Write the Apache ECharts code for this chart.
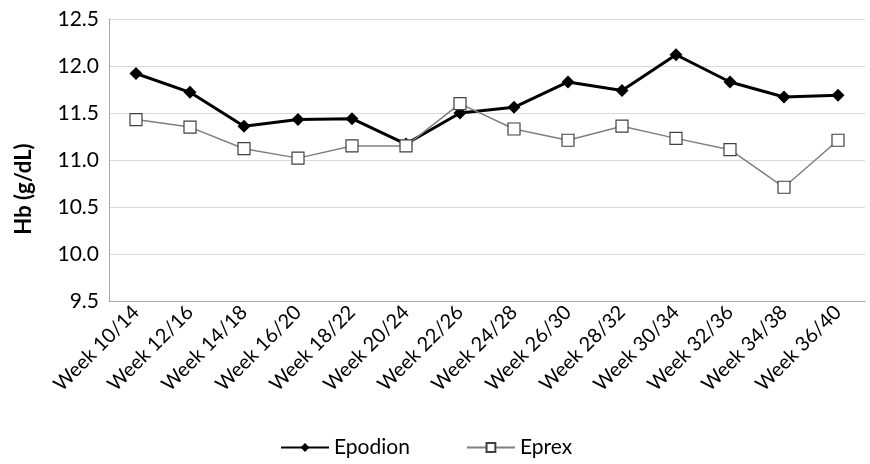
<!DOCTYPE html>
<html><head><meta charset="utf-8">
<script src="https://cdn.jsdelivr.net/npm/echarts@6/dist/echarts.min.js"></script>
<style>html,body{margin:0;padding:0;background:#fff}#c{width:870px;height:464px}</style>
</head><body><div id="c"></div>
<script>
const categories = ["Week 10/14","Week 12/16","Week 14/18","Week 16/20","Week 18/22","Week 20/24","Week 22/26","Week 24/28","Week 26/30","Week 28/32","Week 30/34","Week 32/36","Week 34/38","Week 36/40"];
const epodion = [11.92,11.72,11.36,11.43,11.44,11.17,11.50,11.56,11.83,11.74,12.12,11.83,11.67,11.69];
const eprex = [11.43,11.35,11.12,11.02,11.15,11.15,11.60,11.33,11.21,11.36,11.23,11.11,10.71,11.21];
const yTicks = {min: 9.5, max: 12.5, interval: 0.5};
const yTitle = 'Hb (g/dL)';
const font = "Lato, 'Open Sans', sans-serif";
const chart = echarts.init(document.getElementById('c'));
chart.setOption({
  animation: false,
  grid: {left: 109, right: 5, top: 19, bottom: 163},
  graphic: [{
    type: 'text', x: 24, y: 189, rotation: Math.PI / 2,
    style: {text: yTitle, fontFamily: font, fontSize: 22, fontWeight: 'bold', fill: '#000',
            align: 'center', verticalAlign: 'middle'}
  }],
  legend: {
    bottom: 1, left: 275, itemGap: 56, itemWidth: 48, itemHeight: 11,
    textStyle: {fontFamily: font, fontSize: 21, color: '#000'},
    data: ['Epodion','Eprex']
  },
  xAxis: {
    type: 'category', data: categories, boundaryGap: true,
    axisLine: {lineStyle: {color: '#a6a6a6'}},
    axisTick: {alignWithLabel: true, length: 5, lineStyle: {color: '#a6a6a6'}},
    axisLabel: {rotate: 45, interval: 0, fontFamily: font, fontSize: 20, color: '#000', margin: 8}
  },
  yAxis: {
    type: 'value', min: yTicks.min, max: yTicks.max, interval: yTicks.interval,
    axisLine: {show: true, lineStyle: {color: '#a6a6a6'}},
    axisTick: {show: false},
    splitLine: {lineStyle: {color: '#d9d9d9', width: 1}},
    axisLabel: {fontFamily: font, fontSize: 21, color: '#000', margin: 10, formatter: v => v.toFixed(1)}
  },
  series: [
    {name: 'Epodion', type: 'line', data: epodion, z: 3,
     lineStyle: {color: '#000', width: 3}, itemStyle: {color: '#000'},
     symbol: 'diamond', symbolSize: 13, showAllSymbol: true},
    {name: 'Eprex', type: 'line', data: eprex, z: 4,
     lineStyle: {color: '#7f7f7f', width: 1.5},
     itemStyle: {color: '#fff', borderColor: '#404040', borderWidth: 1.2},
     symbol: 'rect', symbolSize: 12, showAllSymbol: true}
  ]
});
</script></body></html>
